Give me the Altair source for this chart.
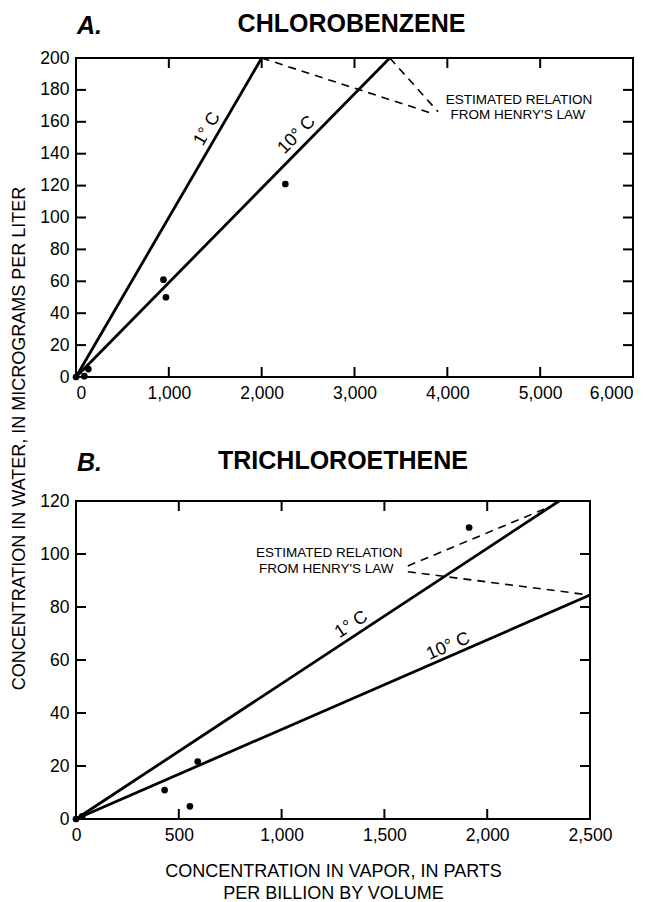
import math
import altair as alt
import pandas as pd

FONT = "Liberation Sans"

# ---------------- Panel A : CHLOROBENZENE ----------------
a_x_ticks = [0, 1000, 2000, 3000, 4000, 5000, 6000]
a_y_ticks = [0, 20, 40, 60, 80, 100, 120, 140, 160, 180, 200]
a_pts_x = [0, 90, 133, 942, 969, 2255]
a_pts_y = [0, 0.5, 5, 61, 50, 121]
a_line_series = ["1° C", "1° C", "10° C", "10° C"]
a_line_x = [0, 2000, 0, 3380]
a_line_y = [0, 200, 0, 200]
a_dash_series = ["d1", "d1", "d2", "d2"]
a_dash_x = [2000, 3850, 3380, 3900]
a_dash_y = [200, 165, 200, 166.3]
a_lbl_text = ["1° C", "10° C"]
a_lbl_x = [1415, 2378]
a_lbl_y = [155.5, 151.7]
a_note_text = ["ESTIMATED RELATION", "FROM HENRY'S LAW"]
a_note_x = [4772, 4760]
a_note_y = [173.7, 164.3]

# ---------------- Panel B : TRICHLOROETHENE ----------------
b_x_ticks = [0, 500, 1000, 1500, 2000, 2500]
b_y_ticks = [0, 20, 40, 60, 80, 100, 120]
b_pts_x = [0, 30, 431, 554, 592, 1912]
b_pts_y = [0, 1, 10.9, 4.8, 21.7, 110]
b_line_series = ["1° C", "1° C", "10° C", "10° C"]
b_line_x = [0, 2350, 0, 2500]
b_line_y = [0, 120, 0, 84.5]
b_dash_series = ["d1", "d1", "d2", "d2"]
b_dash_x = [1614, 2310, 1614, 2500]
b_dash_y = [95.5, 118, 93.3, 84.5]
b_lbl_text = ["1° C", "10° C"]
b_lbl_x = [1340, 1811]
b_lbl_y = [73.3, 65.1]
b_note_text = ["ESTIMATED RELATION", "FROM HENRY'S LAW"]
b_note_x = [1232, 1217]
b_note_y = [100.2, 94.3]

Y_TITLE = "CONCENTRATION IN WATER, IN MICROGRAMS PER LITER"
X_TITLE = ["CONCENTRATION IN VAPOR, IN PARTS", "PER BILLION BY VOLUME"]

TICK = 10


def panel(W, H, xt, yt, px, py, lser, lx, ly, dser, dx, dy, lbl, lblx, lbly,
          note, notex, notey, letter, name, name_dx, head_y,
          xaxis_extra, yaxis_extra):
    xdom = [xt[0], xt[-1]]
    ydom = [yt[0], yt[-1]]
    xs = alt.Scale(domain=xdom, nice=False, zero=True)
    ys = alt.Scale(domain=ydom, nice=False, zero=True)
    xax = alt.Axis(values=xt, format=",.0f", grid=False, domain=False, ticks=False,
                   tickSize=0, labelPadding=7, labelFontSize=17.5,
                   labelOverlap=False, **xaxis_extra)
    yax = alt.Axis(values=yt, format=",.0f", grid=False, domain=False, ticks=False,
                   tickSize=0, labelPadding=7, labelFontSize=17.5, labelFlush=False,
                   labelOverlap=False, **yaxis_extra)

    def X():
        return alt.X("x:Q", scale=xs, axis=xax)

    def Y():
        return alt.Y("y:Q", scale=ys, axis=yax)

    pts = alt.Chart(pd.DataFrame({"x": px, "y": py})).mark_point(
        filled=True, shape="circle", size=45, color="black", opacity=1
    ).encode(x=X(), y=Y())

    solid = alt.Chart(pd.DataFrame({"s": lser, "x": lx, "y": ly})).mark_line(
        color="black", strokeWidth=2.8
    ).encode(x=X(), y=Y(), detail="s:N")

    dashed = alt.Chart(pd.DataFrame({"s": dser, "x": dx, "y": dy})).mark_line(
        color="black", strokeWidth=1.6, strokeDash=[8, 6]
    ).encode(x=X(), y=Y(), detail="s:N")

    layers = [pts, solid, dashed]

    # line labels, rotated to follow each line
    for i in range(len(lbl)):
        x0, x1 = lx[2 * i], lx[2 * i + 1]
        y0, y1 = ly[2 * i], ly[2 * i + 1]
        dxp = (x1 - x0) / (xdom[1] - xdom[0]) * W
        dyp = (y1 - y0) / (ydom[1] - ydom[0]) * H
        ang = 360 - math.degrees(math.atan2(dyp, dxp))
        layers.append(
            alt.Chart(pd.DataFrame({"t": [lbl[i]], "x": [lblx[i]], "y": [lbly[i]]}))
            .mark_text(font=FONT, fontSize=18, angle=ang, align="center",
                       baseline="middle", color="black")
            .encode(x=X(), y=Y(), text="t:N")
        )

    layers.append(
        alt.Chart(pd.DataFrame({"t": note, "x": notex, "y": notey}))
        .mark_text(font=FONT, fontSize=13.5, align="center", baseline="middle",
                   color="black")
        .encode(x=X(), y=Y(), text="t:N")
    )

    # inward ticks on all four sides
    yin = pd.DataFrame({"y": yt[1:-1]})
    xin = pd.DataFrame({"x": xt[1:-1]})
    rule = dict(color="black", strokeWidth=2)
    layers += [
        alt.Chart(yin).mark_rule(**rule).encode(
            y=Y(), x=alt.value(0), x2=alt.value(TICK)),
        alt.Chart(yin).mark_rule(**rule).encode(
            y=Y(), x=alt.value(W - TICK), x2=alt.value(W)),
        alt.Chart(xin).mark_rule(**rule).encode(
            x=X(), y=alt.value(H - TICK), y2=alt.value(H)),
        alt.Chart(xin).mark_rule(**rule).encode(
            x=X(), y=alt.value(0), y2=alt.value(TICK)),
    ]

    # panel letter and compound name
    layers.append(
        alt.Chart(pd.DataFrame({"t": [letter]})).mark_text(
            font=FONT, fontSize=25, fontWeight="bold", fontStyle="italic",
            align="left", baseline="middle", color="black"
        ).encode(x=alt.value(1), y=alt.value(head_y), text="t:N")
    )
    layers.append(
        alt.Chart(pd.DataFrame({"t": [name]})).mark_text(
            font=FONT, fontSize=25, fontWeight="bold",
            align="center", baseline="middle", color="black"
        ).encode(x=alt.value(W / 2 + name_dx), y=alt.value(head_y - 2), text="t:N")
    )

    return alt.layer(*layers).properties(width=W, height=H)


chart_a = panel(
    557, 319, a_x_ticks, a_y_ticks, a_pts_x, a_pts_y,
    a_line_series, a_line_x, a_line_y, a_dash_series, a_dash_x, a_dash_y,
    a_lbl_text, a_lbl_x, a_lbl_y, a_note_text, a_note_x, a_note_y,
    "A.", "CHLOROBENZENE", -3, -32,
    xaxis_extra=dict(title="", labelFlush=9),
    yaxis_extra=dict(title=Y_TITLE, titleX=-57, titleY=380, titleAngle=270,
                     titleAlign="center", titleBaseline="middle",
                     titleFontSize=18, titleFontWeight="normal"),
)

chart_b = panel(
    514, 318, b_x_ticks, b_y_ticks, b_pts_x, b_pts_y,
    b_line_series, b_line_x, b_line_y, b_dash_series, b_dash_x, b_dash_y,
    b_lbl_text, b_lbl_x, b_lbl_y, b_note_text, b_note_x, b_note_y,
    "B.", "TRICHLOROETHENE", 10, -38,
    xaxis_extra=dict(title=X_TITLE, titleFontSize=18, titleFontWeight="normal",
                     titlePadding=19, titleLineHeight=22, labelFlush=False),
    yaxis_extra=dict(title=""),
)

chart = alt.vconcat(chart_a, chart_b, spacing=124, bounds="flush").properties(
    padding={"left": 0, "top": 3, "right": 0, "bottom": 5},
    background="white",
).configure_view(stroke="black", strokeWidth=2).configure_axis(
    labelFont=FONT, titleFont=FONT, labelColor="black", titleColor="black"
)

chart.save("out.html", embed_options={"renderer": "svg", "actions": False})
